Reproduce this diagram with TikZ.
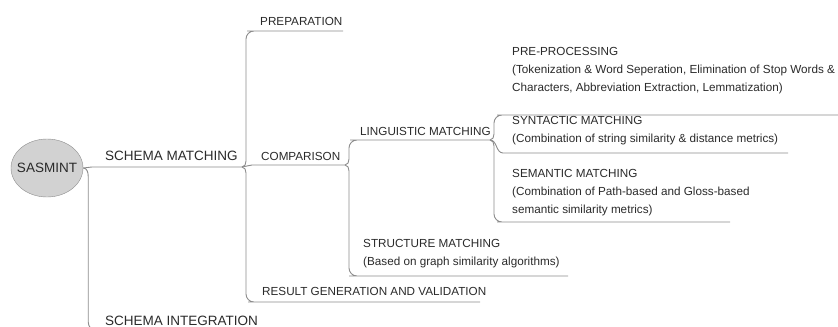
\documentclass[tikz,border=0pt]{standalone}
\usepackage{fontspec}
\setmainfont{Liberation Sans}
\usetikzlibrary{shapes.geometric}
\definecolor{linegray}{HTML}{8C8C8C}
\definecolor{textgray}{HTML}{2A2A2A}
\definecolor{rootfill}{HTML}{D2D2D2}

\begin{document}
\begin{tikzpicture}[x=1bp,y=1bp]
                    \useasboundingbox (0,0) rectangle (838,326);
                    \node[ellipse,draw=linegray,fill=rootfill,minimum width=72bp,minimum height=58bp,inner xsep=-5bp,inner ysep=0pt,
                          font=\fontsize{13.5bp}{16bp}\selectfont,text=textgray] (root) at (47,158) {SASMINT};
                    % base of a node with several lines is its last line
                    \begin{scope}[every node/.style={anchor=base west,inner sep=0pt,align=left,text=textgray,
                                  font=\fontsize{11.7bp}{18bp}\selectfont}]
                        \node[font=\fontsize{13.5bp}{16bp}\selectfont] (sm) at (105,166) {SCHEMA MATCHING};
                        \node[font=\fontsize{13.5bp}{16bp}\selectfont] (si) at (105,1) {SCHEMA INTEGRATION};
                        \node (prep) at (260,301) {PREPARATION};
                        \node (comp) at (261,166) {COMPARISON};
                        \node (res) at (262,31) {RESULT GENERATION AND VALIDATION};
                        \node (ling) at (360,191) {LINGUISTIC MATCHING};
                        \node (str) at (363,61) {STRUCTURE MATCHING\\(Based on graph similarity algorithms)};
                        \node (pre) at (512,235) {PRE-PROCESSING\\(Tokenization \& Word Seperation, Elimination of Stop Words \&\\Characters, Abbreviation Extraction, Lemmatization)};
                        \node (syn) at (512,184) {SYNTACTIC MATCHING\\(Combination of string similarity \& distance metrics)};
                        \node (sem) at (512,113) {SEMANTIC MATCHING\\(Combination of Path-based and Gloss-based\\semantic similarity metrics)};
                    \end{scope}
                    % underlines of the topics
                    \coordinate (smS) at (92,159);   \coordinate (smE) at (242,159);
                    \coordinate (siS) at (100,-5);   \coordinate (siE) at (262,-5);
                    \coordinate (prepS) at (255,295); \coordinate (prepE) at (343,295);
                    \coordinate (compS) at (252,161); \coordinate (compE) at (345,161);
                    \coordinate (resS) at (256,24);  \coordinate (resE) at (480,24);
                    \coordinate (lingS) at (358,186); \coordinate (lingE) at (490,186);
                    \coordinate (strS) at (357,50);  \coordinate (strE) at (568,50);
                    \coordinate (preS) at (505,211); \coordinate (preE) at (840,211);
                    \coordinate (synS) at (503,173); \coordinate (synE) at (788,173);
                    \coordinate (semS) at (505,104); \coordinate (semE) at (730,104);
                    \begin{scope}[every path/.style={draw=linegray,line width=0.9bp}]
                        \draw (root.east) to[out=0,in=180] (smS) -- (smE);
                        \draw (root.east) to[out=0,in=90] ++(5,-8) [rounded corners=9] |- (siS) -- (siE);
                        \draw (smE) to[out=0,in=-90] ++(4,6) [rounded corners=8] |- (prepS) -- (prepE);
                        \draw (smE) to[out=0,in=180] (compS) -- (compE);
                        \draw (smE) to[out=0,in=90] ++(4,-6) [rounded corners=8] |- (resS) -- (resE);
                        \draw (compE) to[out=0,in=-90] ++(4,6) [rounded corners=8] |- (lingS) -- (lingE);
                        \draw (compE) to[out=0,in=90] ++(4,-6) [rounded corners=8] |- (strS) -- (strE);
                        \draw (lingE) to[out=0,in=-90] ++(4,6) [rounded corners=8] |- (preS) -- (preE);
                        \draw (lingE) to[out=0,in=180] (synS) -- (synE);
                        \draw (lingE) to[out=0,in=90] ++(4,-6) [rounded corners=8] |- (semS) -- (semE);
                    \end{scope}
                \end{tikzpicture}
\end{document}
